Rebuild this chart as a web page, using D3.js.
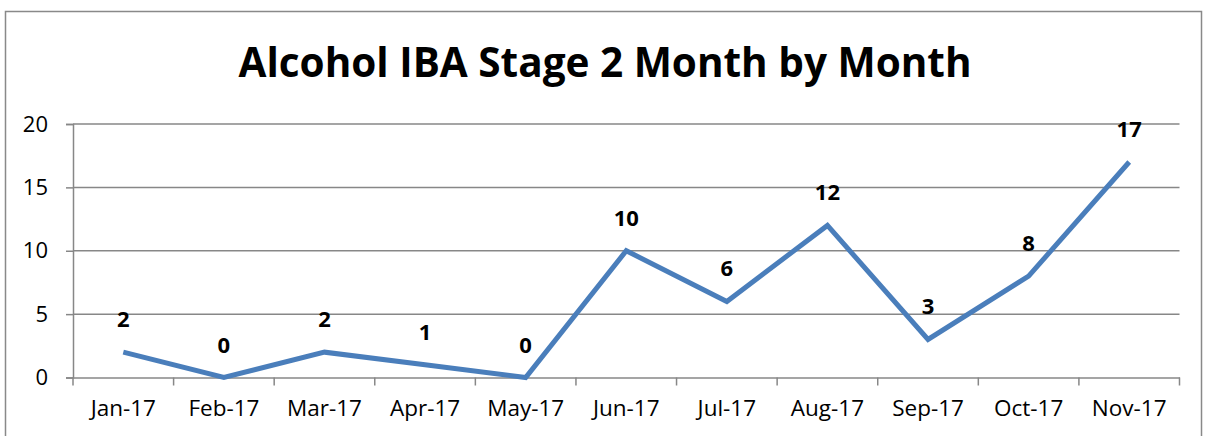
<!DOCTYPE html>
<html>
<head>
<meta charset="utf-8">
<script src="https://cdn.jsdelivr.net/npm/d3@7"></script>
<style>
  body { margin: 0; background: #fff; }
  text { font-family: "Open Sans", "Liberation Sans", sans-serif; }
</style>
</head>
<body>
<script>
// chart data
var months = ["Jan-17", "Feb-17", "Mar-17", "Apr-17", "May-17", "Jun-17",
              "Jul-17", "Aug-17", "Sep-17", "Oct-17", "Nov-17"];
var counts = [2, 0, 2, 1, 0, 10, 6, 12, 3, 8, 17];
var yTicks = [0, 5, 10, 15, 20];

var svg = d3.select("body").append("svg")
  .attr("width", 1205)
  .attr("height", 436);

// outer chart border
svg.append("rect")
  .attr("x", 5.5).attr("y", 11.5)
  .attr("width", 1196).attr("height", 440)
  .attr("fill", "none")
  .attr("stroke", "#898989")
  .attr("stroke-width", 1.5);

// title
svg.append("text")
  .attr("x", 605).attr("y", 77)
  .attr("text-anchor", "middle")
  .style("font-size", "40.5px")
  .style("font-weight", "bold")
  .text("Alcohol IBA Stage 2 Month by Month");

var plotLeft = 73, plotRight = 1179.5, plotTop = 124, plotBottom = 377.5;

var x = d3.scaleBand().domain(months).range([plotLeft, plotRight]);
var y = d3.scaleLinear().domain([0, 20]).range([plotBottom, plotTop]);

// horizontal gridlines
svg.append("g")
  .selectAll("line")
  .data(yTicks.filter(function(d) { return d > 0; }))
  .enter().append("line")
  .attr("x1", plotLeft).attr("x2", plotRight)
  .attr("y1", function(d) { return y(d); })
  .attr("y2", function(d) { return y(d); })
  .attr("stroke", "#878787")
  .attr("stroke-width", 1.5);

// y axis
var yAxis = svg.append("g")
  .attr("transform", "translate(" + plotLeft + ",0)")
  .call(d3.axisLeft(y).tickValues(yTicks).tickSize(7).tickPadding(18));
yAxis.selectAll("path, line").attr("stroke", "#878787").attr("stroke-width", 1.5);
yAxis.selectAll("text").style("font-size", "22px").attr("fill", "#000")
  .style("font-family", "Open Sans");

// x axis (ticks between categories)
var xAxis = svg.append("g")
  .attr("transform", "translate(0," + plotBottom + ")")
  .call(d3.axisBottom(x).tickSize(0).tickPadding(23));
xAxis.select(".domain").attr("stroke", "#878787").attr("stroke-width", 1.5);
xAxis.selectAll("text").style("font-size", "22.5px").attr("fill", "#000")
  .style("font-family", "Open Sans");

// category separator ticks
var bounds = months.map(function(m) { return x(m); }).concat([plotRight]);
svg.append("g").selectAll("line")
  .data(bounds)
  .enter().append("line")
  .attr("x1", function(d) { return d; }).attr("x2", function(d) { return d; })
  .attr("y1", plotBottom).attr("y2", plotBottom + 8)
  .attr("stroke", "#878787")
  .attr("stroke-width", 1.5);

// the line
var line = d3.line()
  .x(function(d, i) { return x(months[i]) + x.bandwidth() / 2; })
  .y(function(d) { return y(d); });

svg.append("path")
  .datum(counts)
  .attr("d", line)
  .attr("fill", "none")
  .attr("stroke", "#4a7ebb")
  .attr("stroke-width", 5)
  .attr("stroke-linejoin", "miter");

// data labels
svg.append("g").selectAll("text")
  .data(counts)
  .enter().append("text")
  .attr("x", function(d, i) { return x(months[i]) + x.bandwidth() / 2; })
  .attr("y", function(d) { return y(d) - 25; })
  .attr("text-anchor", "middle")
  .style("font-size", "22px")
  .style("font-weight", "bold")
  .text(function(d) { return d; });
</script>
</body>
</html>
